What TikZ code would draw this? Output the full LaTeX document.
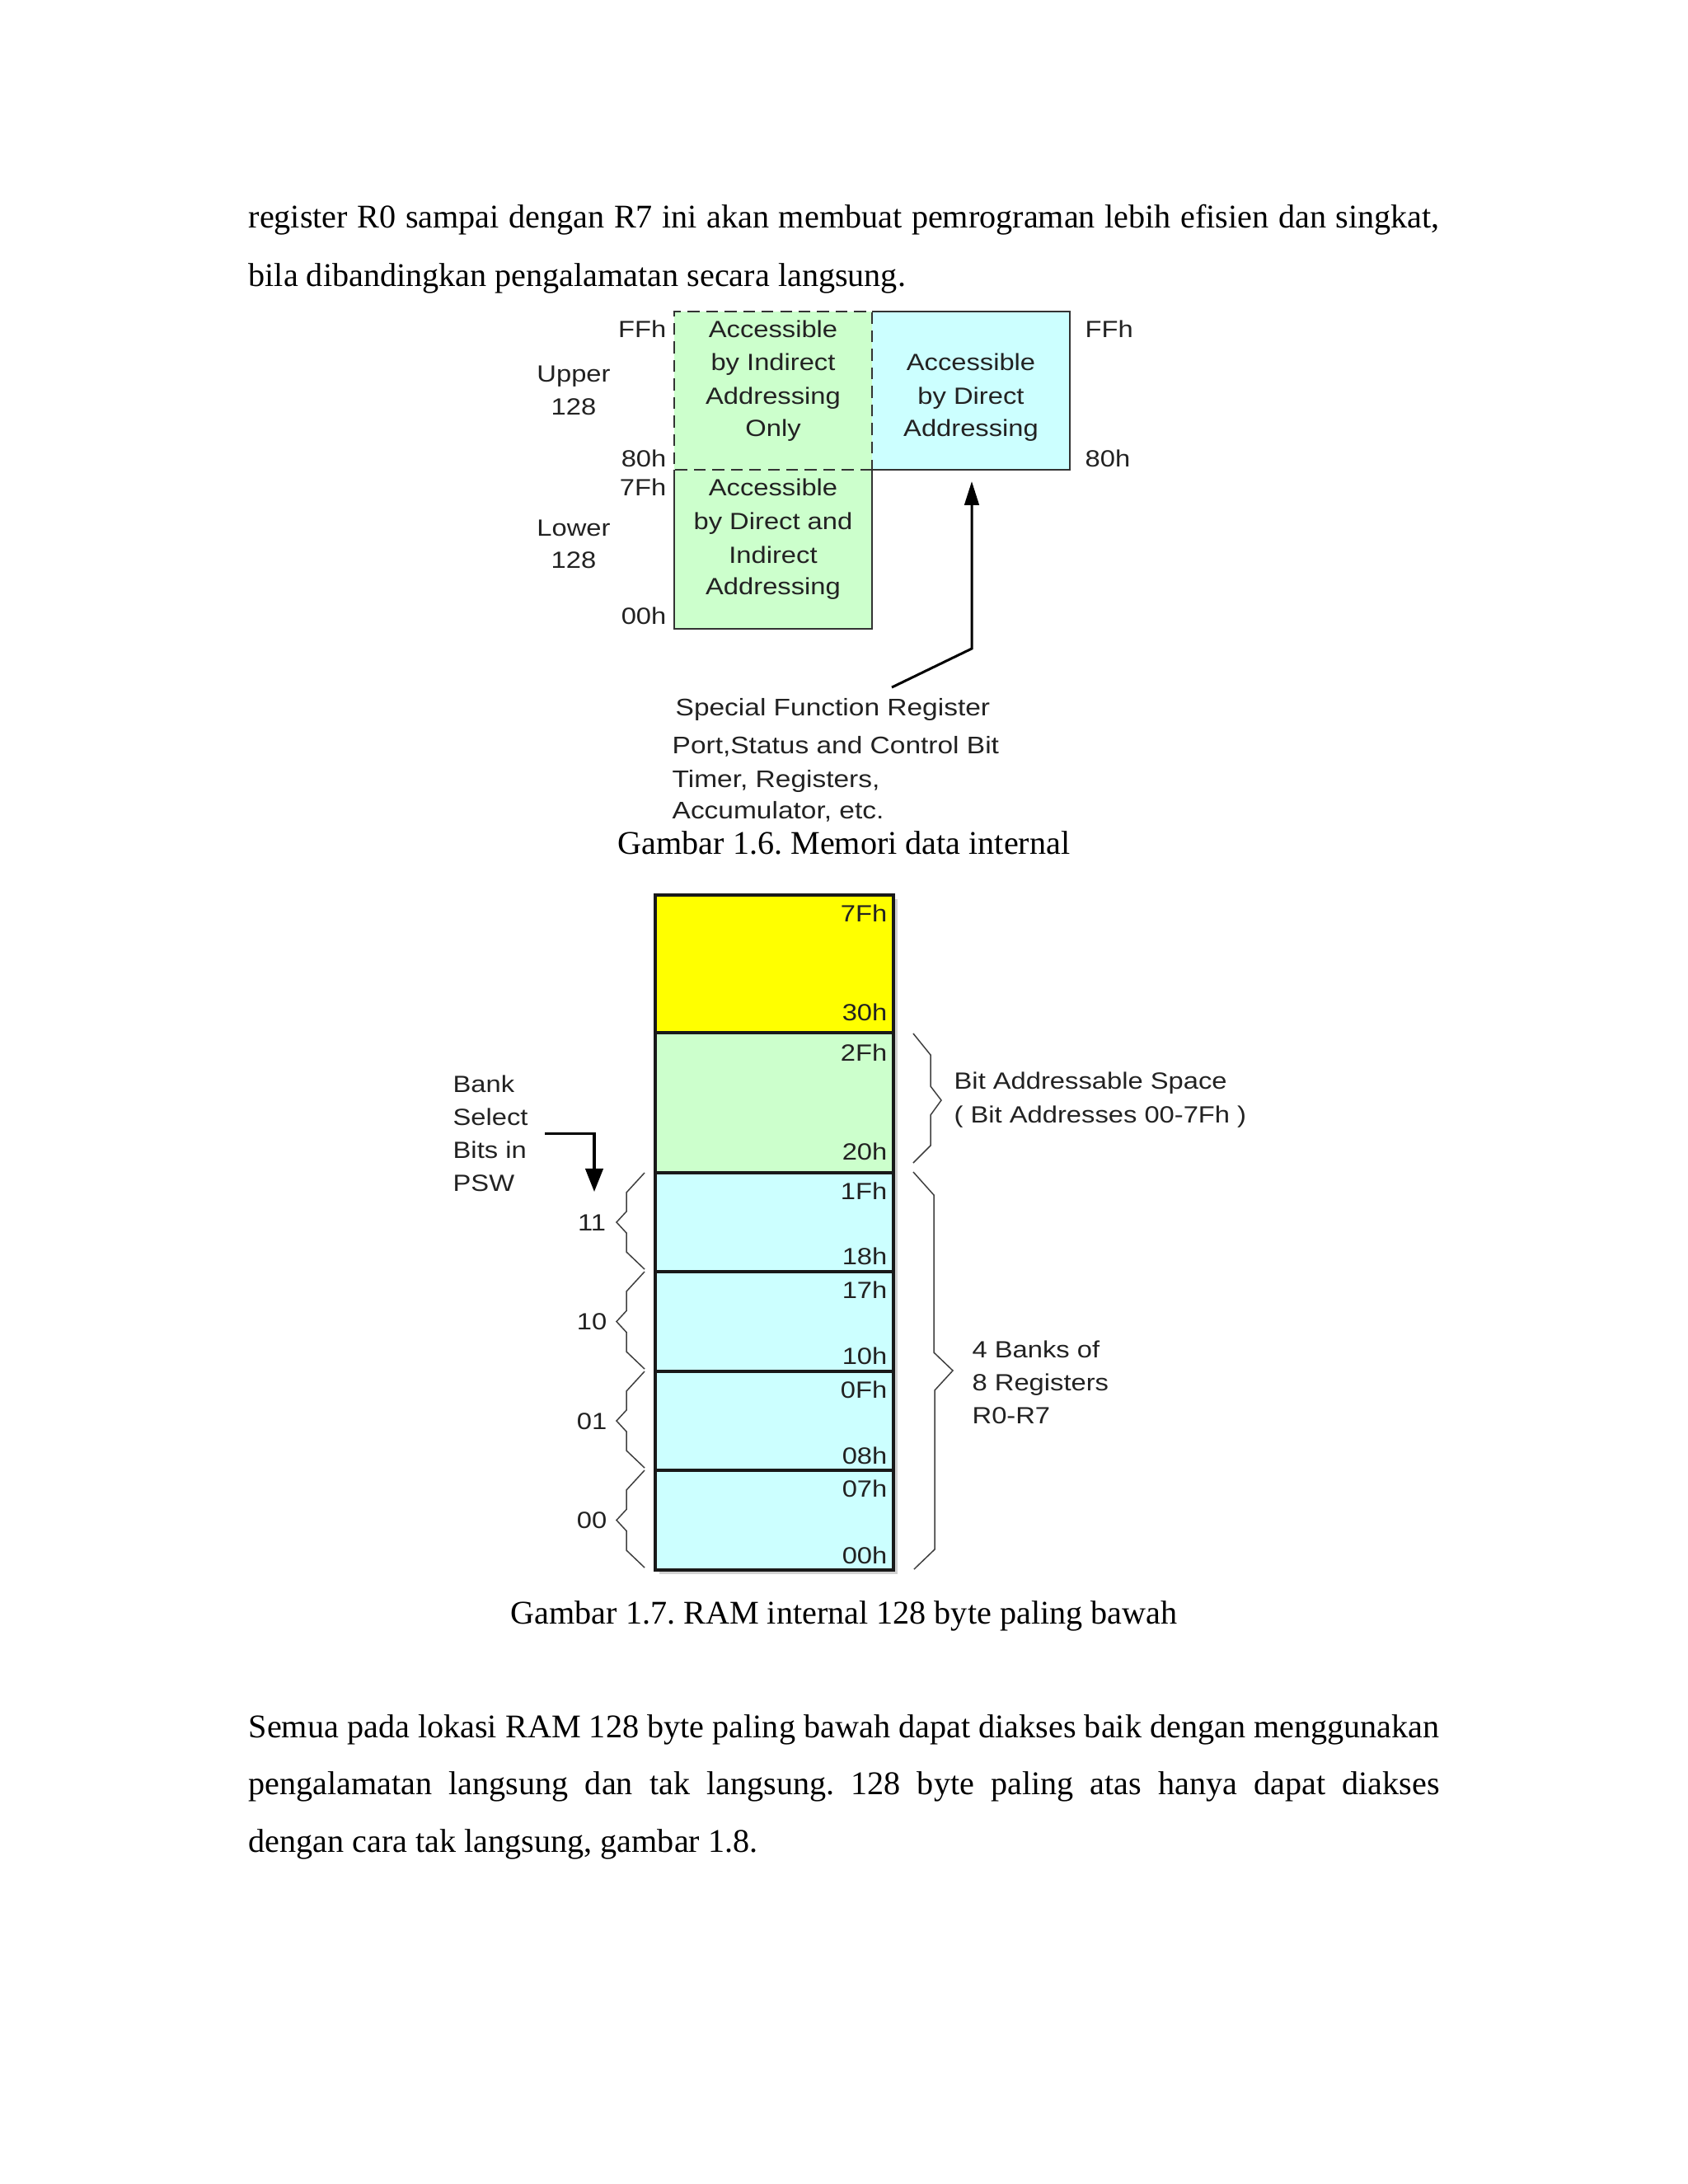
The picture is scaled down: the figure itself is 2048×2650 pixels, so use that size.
\documentclass[tikz,border=0pt]{standalone}
\usepackage{fontspec}
\setmainfont{Liberation Serif}
\newfontfamily\dg[FakeStretch=1.15]{Liberation Sans}
\usetikzlibrary{arrows.meta}
\frenchspacing
\definecolor{cgreen}{HTML}{CCFFCC}
\definecolor{ccyan}{HTML}{CCFFFF}
\definecolor{cyel}{HTML}{FFFF00}
\definecolor{edgecol}{HTML}{333333}
\definecolor{ink}{HTML}{222222}
\tikzset{
  bodytext/.style={anchor=base west, inner sep=0pt, font=\fontsize{12}{14}\selectfont},
  captext/.style={anchor=base, inner sep=0pt, font=\fontsize{12}{14}\selectfont},
  boxtext/.style={anchor=base, inner sep=0pt, text=ink, font=\dg\fontsize{8.5}{10}\selectfont},
  lbl/.style={inner sep=0pt, text=ink, font=\dg\fontsize{8.5}{10}\selectfont},
  sfrtext/.style={anchor=base west, inner sep=0pt, text=ink, font=\dg\fontsize{8.7}{10}\selectfont},
  solidedge/.style={draw=edgecol, line width=0.85pt},
  dashedge/.style={draw=edgecol, line width=0.85pt, dash pattern=on 4.3pt off 2.4pt},
  colline/.style={draw=black!90, line width=1.1pt},
  bracepath/.style={draw=black!75, line width=0.45pt, line join=miter},
  arrowline/.style={draw=black, line width=0.9pt, -{Triangle[length=8.6pt,width=5.2pt]}},
}
\begin{document}
\begin{tikzpicture}[x=0.29883pt,y=-0.29883pt]
\useasboundingbox[fill=white] (0,0) rectangle (2048,2650);

% ---------- body text top ----------
\node[bodytext] (p1a) at (301,276) {\makebox[431.8pt][s]{register R0 sampai dengan R7 ini akan membuat pemrograman lebih efisien dan singkat,}};
\node[bodytext] (p1b) at (301,347) {bila dibandingkan pengalamatan secara langsung.};

% ---------- Figure 1.6 ----------
\fill[cgreen] (818,378) rectangle (1058,763);
\fill[ccyan] (1058,378) rectangle (1298,570);
\draw[solidedge] (818,570) -- (818,763) -- (1058,763) -- (1058,570);
\draw[solidedge] (1058,378) -- (1298,378) -- (1298,570) -- (1058,570);
\draw[dashedge] (1058,570) -- (818,570) -- (818,378) -- (1058,378) -- (1058,570);

\node[boxtext] (u1) at (938,409) {Accessible};
\node[boxtext] (u2) at (938,449) {by Indirect};
\node[boxtext] (u3) at (938,490) {Addressing};
\node[boxtext] (u4) at (938,529) {Only};
\node[boxtext] (c1) at (1178,449) {Accessible};
\node[boxtext] (c2) at (1178,490) {by Direct};
\node[boxtext] (c3) at (1178,529) {Addressing};
\node[boxtext] (l1) at (938,601) {Accessible};
\node[boxtext] (l2) at (938,642) {by Direct and};
\node[boxtext] (l3) at (938,683) {Indirect};
\node[boxtext] (l4) at (938,721) {Addressing};

\node[lbl, anchor=base east] (ffl) at (809,409) {FFh};
\node[lbl, anchor=base east] (e80l) at (809,566) {80h};
\node[lbl, anchor=base east] (e7fl) at (809,601) {7Fh};
\node[lbl, anchor=base east] (e00l) at (809,757) {00h};
\node[lbl, anchor=base] (up1) at (696,463) {Upper};
\node[lbl, anchor=base] (up2) at (696,503) {128};
\node[lbl, anchor=base] (lo1) at (696,650) {Lower};
\node[lbl, anchor=base] (lo2) at (696,689) {128};
\node[lbl, anchor=base west] (ffr) at (1316,409) {FFh};
\node[lbl, anchor=base west] (e80r) at (1316,566) {80h};

\node[sfrtext] (s1) at (819,868) {Special Function Register};
\node[sfrtext] (s2) at (815,914) {Port,Status and Control Bit};
\node[sfrtext] (s3) at (815,955) {Timer, Registers,};
\node[sfrtext] (s4) at (815,993) {Accumulator, etc.};

\coordinate (sfrtail) at (1082,834);
\coordinate (sfrbend) at (1179,787);
\coordinate (sfrtip) at (1179,584);
\draw[arrowline] (sfrtail) -- (sfrbend) -- (sfrtip);

\node[captext] (cap6) at (1024,1036) {Gambar 1.6. Memori data internal};

% ---------- Figure 1.7 ----------
\fill[black!18] (800,1091) rectangle (1089,1910);
\fill[cyel] (795,1086) rectangle (1084,1253);
\fill[cgreen] (795,1253) rectangle (1084,1423);
\fill[ccyan] (795,1423) rectangle (1084,1905);
\draw[colline] (795,1086) rectangle (1084,1905);
\foreach \yy in {1253,1423,1543,1664,1784}
  \draw[colline] (795,\yy) -- (1084,\yy);

\foreach \nm/\yy/\tx in {a7f/1118/7Fh, a30/1238/30h, a2f/1287/2Fh, a20/1407/20h,
                         a1f/1455/1Fh, a18/1534/18h, a17/1575/17h, a10/1655/10h,
                         a0f/1696/0Fh, a08/1776/08h, a07/1816/07h, a00/1897/00h}
  \node[lbl, anchor=base east] (\nm) at (1077,\yy) {\tx};

% left braces for register banks
\foreach \t/\b/\tx/\nm in {1423/1543/11/b11, 1543/1664/10/b10, 1664/1784/01/b01, 1784/1905/00/b00} {
  \pgfmathsetmacro\m{(\t+\b)/2}
  \draw[bracepath] (782,\t) -- (760,\t+24) -- (760,\m-13) -- (748,\m) -- (760,\m+13) -- (760,\b-24) -- (782,\b-3);
  \node[lbl, anchor=base] (\nm) at (718,\m+10) {\tx};
}

% right braces
\draw[bracepath] (1108,1254) -- (1129,1280) -- (1129,1318) -- (1142,1335) -- (1129,1353) -- (1129,1390) -- (1108,1411);
\draw[bracepath] (1108,1422) -- (1133,1450) -- (1133,1641) -- (1156,1663) -- (1134,1687) -- (1134,1880) -- (1109,1904);

\node[lbl, anchor=base west] (ba1) at (1157,1321) {Bit Addressable Space};
\node[lbl, anchor=base west] (ba2) at (1157,1362) {( Bit Addresses 00-7Fh )};
\node[lbl, anchor=base west] (rb1) at (1179,1647) {4 Banks of};
\node[lbl, anchor=base west] (rb2) at (1179,1687) {8 Registers};
\node[lbl, anchor=base west] (rb3) at (1179,1727) {R0-R7};

\node[lbl, anchor=base west] (bs1) at (549,1325) {Bank};
\node[lbl, anchor=base west] (bs2) at (549,1365) {Select};
\node[lbl, anchor=base west] (bs3) at (549,1405) {Bits in};
\node[lbl, anchor=base west] (bs4) at (549,1445) {PSW};

\coordinate (bsel) at (661,1375);
\coordinate (bsel2) at (721,1446);
\draw[draw=black, line width=0.9pt, -{Triangle[length=8.4pt,width=6.4pt]}] (bsel) -| (bsel2);

\node[captext] (cap7) at (1024,1970) {Gambar 1.7. RAM internal 128 byte paling bawah};

% ---------- body text bottom ----------
\node[bodytext] (p2a) at (301,2108) {\makebox[431.8pt][s]{Semua pada lokasi RAM 128 byte paling bawah dapat diakses baik dengan menggunakan}};
\node[bodytext] (p2b) at (301,2177) {\makebox[431.8pt][s]{pengalamatan langsung dan tak langsung. 128 byte paling atas hanya dapat diakses}};
\node[bodytext] (p2c) at (301,2247) {dengan cara tak langsung, gambar 1.8.};
\end{tikzpicture}
\end{document}
